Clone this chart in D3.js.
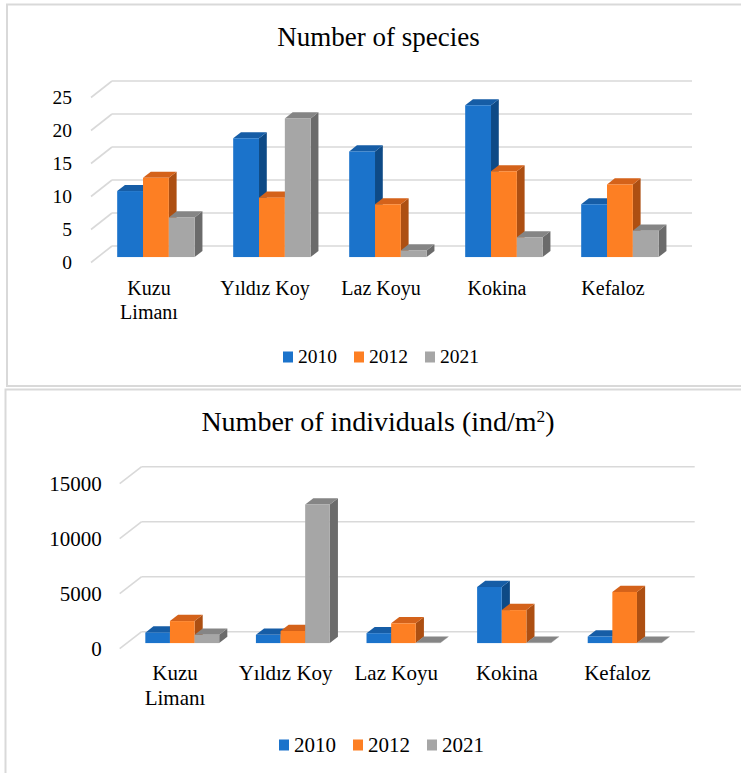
<!DOCTYPE html>
<html>
<head>
<meta charset="utf-8">
<script src="https://cdn.jsdelivr.net/npm/d3@7"></script>
<style>
  html, body { margin: 0; padding: 0; background: #fff; }
  svg { display: block; }
  text { fill: #000; }
</style>
</head>
<body>
<svg id="chart" width="741" height="773"></svg>
<script>
// ---------- data ----------
const categories = ["Kuzu Limanı", "Yıldız Koy", "Laz Koyu", "Kokina", "Kefaloz"];
const categoryLines = [["Kuzu", "Limanı"], ["Yıldız Koy"], ["Laz Koyu"], ["Kokina"], ["Kefaloz"]];
const seriesNames = ["2010", "2012", "2021"];

const species2010 = [10, 18, 16, 23, 8];
const species2012 = [12, 9, 8, 13, 11];
const species2021 = [6, 21, 1, 3, 4];
const speciesTicks = [0, 5, 10, 15, 20, 25];

const indiv2010 = [950, 750, 900, 5100, 600];
const indiv2012 = [2000, 1100, 1800, 3000, 4650];
const indiv2021 = [750, 12600, 30, 30, 30];
const indivTicks = [0, 5000, 10000, 15000];

const colors = {
  "2010": { front: "#1b73cb", top: "#165da6", side: "#0e4a86" },
  "2012": { front: "#fd7f23", top: "#d4621a", side: "#ad4f12" },
  "2021": { front: "#a6a6a6", top: "#858585", side: "#6b6b6b" }
};

const FONT = "Liberation Serif";
const svg = d3.select("#chart");

function txt(parent, size) {
  return parent.append("text").attr("font-family", FONT).style("font-family", `'${FONT}'`)
    .attr("font-size", size).style("font-size", size + "px");
}

// panel frames
svg.append("rect").attr("x", 7).attr("y", 4.5).attr("width", 760).attr("height", 381.5)
  .attr("fill", "none").attr("stroke", "#d9d9d9").attr("stroke-width", 2);
svg.append("rect").attr("x", 5.5).attr("y", 389.5).attr("width", 760).attr("height", 400)
  .attr("fill", "none").attr("stroke", "#d9d9d9").attr("stroke-width", 2);

function drawChart(cfg) {
  const g = svg.append("g");
  const seriesData = cfg.series;

  const x0 = d3.scaleBand().domain(categories).range([cfg.left, cfg.left + cfg.width]);
  const bw = x0.bandwidth();
  const x1 = d3.scaleBand().domain(seriesNames).range([bw * 0.166, bw * 0.834]);
  const y = d3.scaleLinear().domain([0, cfg.max]).range([cfg.base, cfg.top]);
  const dx = cfg.dx, dy = cfg.dy;
  const fF = 0.67, fB = 0.30;

  // title
  const t = txt(g, cfg.titleSize).attr("x", cfg.titleX).attr("y", cfg.titleY).attr("text-anchor", "middle");
  cfg.title.forEach(p => {
    const ts = t.append("tspan").text(p.text);
    if (p.sup) ts.attr("baseline-shift", "super").style("font-size", (cfg.titleSize * 0.62) + "px");
  });

  // gridlines (back wall + floor diagonals) and tick labels
  cfg.ticks.forEach(v => {
    const yy = y(v);
    g.append("line").attr("x1", cfg.left).attr("x2", cfg.left + cfg.width)
      .attr("y1", yy).attr("y2", yy).attr("stroke", "#d9d9d9").attr("stroke-width", 1.6);
    g.append("line").attr("x1", cfg.left).attr("y1", yy)
      .attr("x2", cfg.left + dx).attr("y2", yy + dy).attr("stroke", "#d9d9d9").attr("stroke-width", 1.6);
    txt(g, cfg.tickSize).attr("x", cfg.left + dx - cfg.tickGap).attr("y", yy + dy + cfg.tickSize * 0.33)
      .attr("text-anchor", "end").text(v);
  });

  // bars
  const ox = fF * dx, oy = fF * dy;
  const bx = (fB - fF) * dx, by = (fB - fF) * dy;
  const w = x1.bandwidth();
  categories.forEach((c, i) => {
    seriesNames.forEach((s, j) => {
      const v = seriesData[j][i];
      const xL = x0(c) + x1(s) + ox;
      const yb = y(0) + oy, yt = y(v) + oy;
      const col = colors[s];
      g.append("path").attr("d",
        `M${xL + w},${yb} L${xL + w + bx},${yb + by} L${xL + w + bx},${yt + by} L${xL + w},${yt} Z`)
        .attr("fill", col.side);
      g.append("path").attr("d",
        `M${xL},${yt} L${xL + bx},${yt + by} L${xL + w + bx},${yt + by} L${xL + w},${yt} Z`)
        .attr("fill", col.top);
      g.append("rect").attr("x", xL).attr("y", yt).attr("width", w).attr("height", Math.max(0, yb - yt))
        .attr("fill", col.front);
    });
    // category label
    const cx = x0(c) + bw / 2 + dx;
    const lbl = txt(g, cfg.catSize).attr("text-anchor", "middle");
    categoryLines[i].forEach((ln, k) => {
      lbl.append("tspan").attr("x", cx).attr("y", y(0) + dy + cfg.catOffset + k * cfg.catLine).text(ln);
    });
  });

  // legend
  seriesNames.forEach((s, j) => {
    const lx = cfg.legX + j * cfg.legStep;
    g.append("rect").attr("x", lx).attr("y", cfg.legY - 5.5).attr("width", 10).attr("height", 11)
      .attr("fill", colors[s].front);
    txt(g, cfg.legSize).attr("x", lx + 15).attr("y", cfg.legY + cfg.legSize * 0.33).text(s);
  });
}

drawChart({
  series: [species2010, species2012, species2021],
  ticks: speciesTicks, max: 25,
  left: 112, width: 580, base: 246, top: 81, dx: -21, dy: 16.5,
  title: [{ text: "Number of species" }], titleX: 378.5, titleY: 46, titleSize: 27,
  tickSize: 19.5, tickGap: 19,
  catSize: 20, catOffset: 32.5, catLine: 23.5,
  legX: 283, legY: 357, legStep: 71, legSize: 19.5
});

drawChart({
  series: [indiv2010, indiv2012, indiv2021],
  ticks: indivTicks, max: 15000,
  left: 141.7, width: 553, base: 631.7, top: 466.7, dx: -22, dy: 17,
  title: [{ text: "Number of individuals (ind/m" }, { text: "2", sup: true }, { text: ")" }],
  titleX: 378, titleY: 431, titleSize: 28,
  tickSize: 21, tickGap: 18,
  catSize: 21, catOffset: 31.5, catLine: 25,
  legX: 279, legY: 745, legStep: 74, legSize: 21
});
</script>
</body>
</html>
